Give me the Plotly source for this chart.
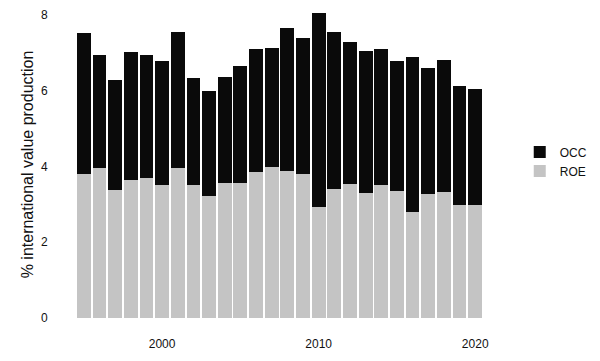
import plotly.graph_objects as go

years = list(range(1995, 2021))
totals = [7.53, 6.95, 6.29, 7.01, 6.93, 6.79, 7.54, 6.32, 6.00, 6.35, 6.64, 7.09, 7.12,
          7.64, 7.39, 8.05, 7.55, 7.28, 7.05, 7.11, 6.78, 6.88, 6.59, 6.81, 6.11, 6.05]
roe = [3.80, 3.97, 3.38, 3.65, 3.69, 3.52, 3.96, 3.50, 3.23, 3.56, 3.56, 3.85, 3.98,
       3.89, 3.80, 2.93, 3.41, 3.54, 3.31, 3.50, 3.36, 2.81, 3.26, 3.32, 2.99, 2.97]
occ = [round(t - r, 2) for t, r in zip(totals, roe)]

fig = go.Figure()
fig.add_trace(go.Bar(x=years, y=roe, name="ROE", marker=dict(color="#c4c4c4", line=dict(width=0))))
fig.add_trace(go.Bar(x=years, y=occ, name="OCC", marker=dict(color="#0a0a0a", line=dict(width=0))))

fig.update_layout(
    barmode="stack",
    bargap=0.12,
    width=600, height=361,
    margin=dict(l=65, r=103, t=8, b=43),
    paper_bgcolor="white", plot_bgcolor="white",
    font=dict(family="Liberation Sans, Arial, sans-serif", color="#111111", size=12),
    legend=dict(traceorder="reversed", x=1.06, y=0.51, xanchor="left", yanchor="middle",
                font=dict(size=12), itemwidth=30, tracegroupgap=0),
    showlegend=True,
)
fig.update_xaxes(range=[1993.8, 2021.2], tickvals=[2000, 2010, 2020], showgrid=False,
                 zeroline=False, showline=False, ticks="outside", ticklen=15,
                 tickcolor="rgba(0,0,0,0)")
fig.update_yaxes(range=[0, 8.1], tickvals=[0, 2, 4, 6, 8], showgrid=False, zeroline=False,
                 showline=False, ticks="outside", ticklen=14, tickcolor="rgba(0,0,0,0)",
                 title=dict(text="% international value production", font=dict(size=16), standoff=3))

fig.write_html("out.html")
